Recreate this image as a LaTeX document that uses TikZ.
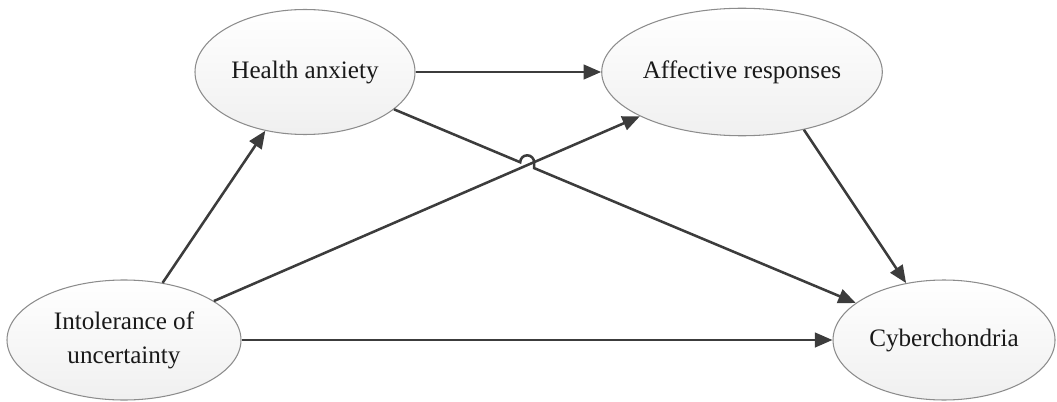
\documentclass[tikz,border=0pt]{standalone}
\usepackage{fontspec}
\setmainfont{Liberation Serif}
\usetikzlibrary{shapes.geometric,arrows.meta,calc,intersections}
\definecolor{linkgray}{HTML}{3C3C3C}
\definecolor{rimgray}{HTML}{8C8C8C}
\tikzset{
  factor/.style={ellipse, draw=rimgray, line width=0.6pt, top color=white,
    bottom color=black!6, inner sep=0pt, align=center,
    font=\fontsize{14.3}{19.5}\selectfont, text=black!90},
  link/.style={-{Triangle[length=3.5mm, width=2.9mm]}, line width=1.45pt,
    draw=linkgray},
}
\begin{document}
\begin{tikzpicture}[x=1cm,y=1cm]
\useasboundingbox (0,0) rectangle (21.14,8.02);
\node[factor, minimum width=4.4cm, minimum height=2.5cm] (health) at (6.1,6.58) {Health anxiety};
\node[factor, minimum width=4.6cm, minimum height=2.55cm] (affect) at (14.84,6.58) {Affective responses};
\node[factor, minimum width=4.68cm, minimum height=2.4cm] (intol) at (2.48,1.22) {Intolerance of\\uncertainty};
\node[factor, minimum width=4.44cm, minimum height=2.4cm] (cyber) at (18.88,1.22) {Cyberchondria};
\draw[link] (health) -- (affect);
\draw[link] (intol) -- (health);
\draw[link, name path=lowlink] (intol) -- (affect);
\draw[link] (intol) -- (cyber);
\draw[link] (affect.317) -- (cyber);
% the crossing line jumps over the other one
\path[name path=highlink] (health) -- (cyber);
\path[name intersections={of=lowlink and highlink, by=cross}];
\coordinate (hopin) at ($(cross)!0.15cm!(health)$);
\coordinate (hopout) at ($(cross)!0.15cm!(cyber)$);
\draw[link] (health) -- (hopin) arc[start angle=180, end angle=0, radius=0.139cm] -- (hopout) -- (cyber);
\end{tikzpicture}
\end{document}
